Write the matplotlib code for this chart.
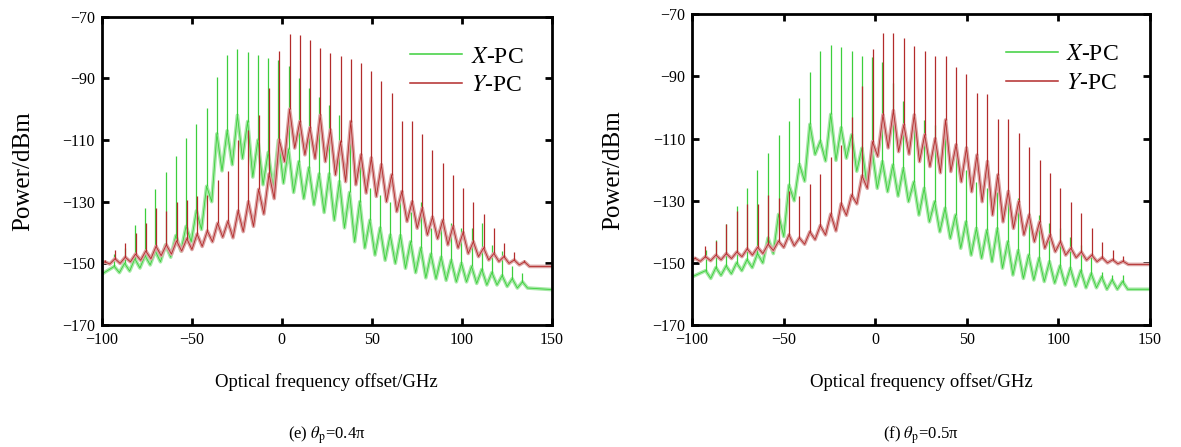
import matplotlib
matplotlib.use("Agg")
import matplotlib.pyplot as plt
from matplotlib.lines import Line2D

plt.rcParams['font.family'] = ['Liberation Serif', 'DejaVu Serif']
plt.rcParams['mathtext.fontset'] = 'stix'

# ---- panel (e) theta_p = 0.4 pi ----
e_green_f = [-93.0, -87.3, -81.6, -75.9, -70.2, -64.5, -58.8, -53.1, -47.4, -41.7, -36.0, -30.3, -24.6, -18.9,
             -13.2, -7.5, -1.8, 3.8, 9.5, 15.1, 20.8, 26.4, 32.1, 37.7, 43.4, 49.0, 54.7, 60.3, 66.0, 71.6,
             77.3, 82.9, 88.6, 94.2, 99.9, 105.5, 111.2, 116.8, 122.5, 128.1, 133.8]
e_green_peak = [-147, -145, -137.5, -132.1, -126, -120.4, -115.3, -109.4, -104.7, -99.7, -89.6, -82.3, -80.5, -81.5,
                -82.3, -83.4, -84, -86, -90, -93, -96, -98.6, -101.8, -105, -115.8, -125.5, -127.8, -130, -128.4,
                -133.3, -130, -138.5, -136, -137, -138.5, -138.5, -137, -144, -146, -151, -153]
e_green_hump = [-151, -150, -148.5, -147.5, -146, -144, -141, -138, -133, -125, -108, -107, -102, -104, -110, -114,
                -110, -113, -117, -119, -121, -121, -123.5, -127, -130, -136, -138.5, -140.8, -141, -143, -145,
                -147, -148, -149, -150, -151, -152, -153, -154, -155, -156]
e_green_valley = [-153, -152.5, -151.5, -150.5, -149.5, -148, -146, -143, -139, -130, -120, -118, -116, -122,
                  -124.5, -126, -124, -127, -129, -131, -133.5, -136, -138.5, -143, -145, -147.3, -149, -150,
                  -151.6, -153, -154.7, -155, -155.5, -156, -156, -156.5, -157, -157, -157.5, -158, -158]
e_green_ends = [-153.5, -158.5]

e_red_f = [-98.4, -92.6, -86.9, -81.2, -75.5, -69.8, -64.1, -58.4, -52.7, -47.0, -41.3, -35.6, -29.9, -24.2,
           -18.5, -12.8, -7.0, -1.3, 4.4, 10.1, 15.7, 21.4, 27.1, 32.7, 38.4, 44.1, 49.8, 55.4, 61.1, 66.8,
           72.5, 78.1, 83.8, 89.5, 95.2, 100.8, 106.5, 112.2, 117.9, 123.5, 129.2, 134.9]
e_red_peak = [-149, -145.6, -143.5, -140.2, -137, -131.9, -133, -130, -129.4, -128.3, -127.8, -122.9, -120.2, -110,
              -106.7, -102, -93.2, -81, -75.5, -76, -77.6, -80.2, -81.7, -82.6, -83.8, -85, -87.5, -91, -94.8,
              -103.8, -103.8, -108.2, -113.2, -117.5, -121.3, -125.6, -130, -134, -138.6, -143.5, -146.4, -148.9]
e_red_hump = [-149.5, -148.5, -148, -147, -146, -144.5, -144, -142.7, -142, -140.5, -139.5, -137, -136.4, -133,
              -130, -126, -121, -110, -100, -104, -106, -102, -106.7, -110.5, -104, -114.8, -115.8, -118, -121.3,
              -126.7, -130, -132.1, -135, -136, -138, -140, -143, -145, -146.8, -147.8, -148.9, -149.5]
e_red_valley = [-150.2, -150, -149.5, -149, -148.5, -147.5, -147, -146, -145.5, -144.5, -143, -141.5, -141.7,
                -139.7, -138, -134, -129, -117, -112.6, -114.8, -116, -117, -121.3, -123.5, -124.5, -127.2,
                -128.3, -130, -133.2, -136.4, -138.6, -140.8, -142, -144, -145, -146.8, -147.8, -148.9, -149.4,
                -150, -150.5, -151]
e_red_ends = [-150.3, -151]

# ---- panel (f) theta_p = 0.5 pi ----
f_green_f = [-92.6, -87.0, -81.4, -75.7, -70.0, -64.3, -58.5, -52.8, -47.1, -41.4, -35.7, -30.0, -24.3, -18.6,
             -12.9, -7.3, -1.7, 3.9, 9.6, 15.3, 21.0, 26.7, 32.4, 38.1, 43.8, 49.5, 55.2, 60.9, 66.6, 72.3,
             78.0, 83.7, 89.4, 95.1, 100.8, 106.5, 112.2, 117.9, 123.6, 129.3, 135.0]
f_green_peak = [-146, -142.6, -137.6, -131.7, -125.8, -120.1, -114.7, -108.8, -104.3, -97, -88.7, -81.8, -79.9,
                -80.4, -81.8, -83.4, -83.8, -85.2, -92, -98, -102.4, -104, -105.6, -108, -115.3, -120, -124,
                -126, -127.1, -128.2, -129.2, -133.5, -134.6, -137.3, -138.9, -141.6, -144.3, -147.5, -152.8,
                -154, -154]
f_green_hump = [-152.5, -151.5, -151, -150, -149, -147, -142, -134.4, -125, -118.3, -105.4, -110.8, -102.2,
                -106.5, -108.8, -113.1, -114, -117.4, -118.5, -119.6, -124, -126, -130.3, -132.4, -134.6, -136.8,
                -138.9, -139.5, -139, -143.2, -146, -147.5, -148.5, -149.6, -151, -151.7, -152.5, -153.5, -154.5,
                -155.5, -156]
f_green_valley = [-155, -154, -153.5, -152.5, -151.5, -150, -147, -141.5, -130, -123.7, -115.1, -117.2, -117,
                  -116.3, -120.5, -125, -126, -127.1, -128.5, -130.3, -134.6, -136.8, -140, -142.1, -145.3,
                  -147.5, -148.5, -149.6, -151.7, -153.9, -155, -155.5, -156, -156.5, -157.1, -157.5, -158, -158,
                  -158.5, -158.5, -158.5]
f_green_ends = [-154.5, -158.5]

f_red_f = [-98.4, -92.7, -87.0, -81.3, -75.6, -69.9, -64.2, -58.5, -52.8, -47.1, -41.4, -35.7, -30.0, -24.3,
           -18.6, -12.9, -7.2, -1.5, 4.2, 9.9, 15.6, 21.3, 27.0, 32.7, 38.4, 44.1, 49.8, 55.5, 61.2, 66.9,
           72.6, 78.3, 84.0, 89.7, 95.4, 101.1, 106.8, 112.5, 118.2, 123.9, 129.6, 135.3]
f_red_peak = [-148, -144.6, -143, -137.6, -133.3, -131.2, -131, -128.2, -129, -126.9, -128.5, -124.6, -121.4, -116,
              -112, -103, -93, -81.3, -76.1, -76.1, -77.7, -80.2, -81.7, -83.4, -83.4, -86.8, -89.2, -95.4,
              -95.8, -103.7, -103.7, -108.1, -112.6, -116.9, -121.2, -126, -130.3, -134.1, -138.9, -143.2,
              -145.9, -147.8]
f_red_hump = [-148.5, -148, -147.5, -147, -146.5, -145.5, -145, -144, -143, -141, -142, -140, -138, -134.3, -131,
              -128.2, -122, -111, -102.4, -101, -105.6, -102.4, -108.8, -110, -104, -112, -113, -115.3, -117.4,
              -121.7, -127, -130.3, -134.6, -136.8, -141, -143.2, -145.3, -146.5, -147.5, -148.3, -149, -149.5]
f_red_valley = [-149.5, -149.3, -149, -148.6, -148, -147.5, -147, -146, -145, -144.5, -144, -142.5, -141, -139.7,
                -134.7, -131, -126, -115.7, -113, -114.2, -115, -117.4, -119, -121, -120.6, -123.9, -127.1,
                -130.3, -134.6, -136.8, -138.9, -141, -143.2, -145.3, -146.4, -147.5, -148.3, -149.1, -149.6,
                -150, -150.3, -150.5]
f_red_ends = [-149.3, -150.5]

x_ticks = [-100, -50, 0, 50, 100, 150]
y_ticks = [-170, -150, -130, -110, -90, -70]

GREEN = '#3ccf3c'
GREEN_PALE = '#a6e8a6'
RED = '#b32b2b'
RED_PALE = '#dba3a3'


def draw_comb(ax, lines, peaks, humps, valleys, ends, col, pale):
    # pedestal: hump at each comb line, valley halfway to the next one
    xs = [-100]
    ys = [ends[0]]
    for i in range(len(lines)):
        xs.append(lines[i])
        ys.append(humps[i])
        if i + 1 < len(lines):
            xs.append((lines[i] + lines[i + 1]) / 2)
        else:
            xs.append(lines[i] + 2.8)
        ys.append(valleys[i])
    xs.append(150)
    ys.append(ends[1])
    ax.plot(xs, ys, color=pale, lw=2.6)
    ax.plot(xs, ys, color=col, lw=0.6)
    ax.vlines(lines, humps, peaks, color=col, lw=0.9)


fig = plt.figure(figsize=(11.81, 4.47), dpi=100)
ax1 = fig.add_axes([0.0861, 0.2729, 0.381, 0.6897])
ax2 = fig.add_axes([0.5860, 0.2729, 0.3878, 0.6951])

panels = [
    (ax1, (e_green_f, e_green_peak, e_green_hump, e_green_valley, e_green_ends),
     (e_red_f, e_red_peak, e_red_hump, e_red_valley, e_red_ends), r'(e) $\theta_{\rm p}$=0.4π'),
    (ax2, (f_green_f, f_green_peak, f_green_hump, f_green_valley, f_green_ends),
     (f_red_f, f_red_peak, f_red_hump, f_red_valley, f_red_ends), r'(f) $\theta_{\rm p}$=0.5π'),
]

for ax, g, r, cap in panels:
    draw_comb(ax, *g, GREEN, GREEN_PALE)
    draw_comb(ax, *r, RED, RED_PALE)
    ax.set_xlim(-100, 150)
    ax.set_ylim(-170, -70)
    ax.set_xticks(x_ticks)
    ax.set_yticks(y_ticks)
    ax.tick_params(direction='in', top=True, right=True, length=5, width=2, labelsize=11.5, pad=5)
    for s in ax.spines.values():
        s.set_linewidth(2)
    ax.set_xlabel('Optical frequency offset/GHz', fontsize=13.5, labelpad=18)
    ax.set_ylabel('Power/dBm', fontsize=18, labelpad=20)
    handles = [Line2D([], [], color=GREEN, lw=1.1), Line2D([], [], color=RED, lw=1.1)]
    ax.legend(handles, [r'$X$-PC', r'$Y$-PC'], loc='upper left', bbox_to_anchor=(0.665, 0.935),
              frameon=False, handlelength=2.2, handletextpad=0.35, borderaxespad=0,
              labelspacing=0.3, fontsize=17)
    bb = ax.get_position()
    fig.text((bb.x0 + bb.x1) / 2, 0.027, cap, ha='center', va='center', fontsize=12)

fig.savefig('out.png', dpi=100)
